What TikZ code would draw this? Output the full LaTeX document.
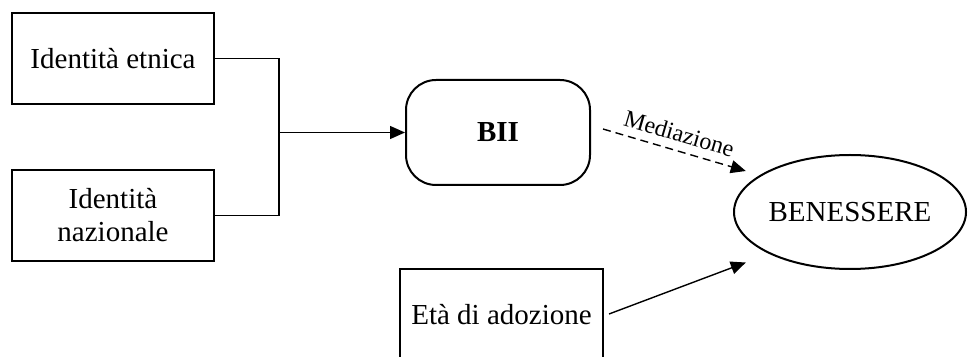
\documentclass[tikz,border=0pt]{standalone}
\usepackage{fontspec}
\setmainfont{Liberation Serif}
\usetikzlibrary{shapes.geometric,arrows.meta}
\begin{document}
\begin{tikzpicture}[x=1pt,y=1pt,
  box/.style={draw,line width=2pt,minimum width=202pt,minimum height=91pt,inner sep=0pt,align=center,font=\fontsize{29}{33}\selectfont},
  link/.style={line width=1.4pt},
  tip/.style={-{Triangle[length=15pt,width=13pt]}}]
\useasboundingbox (0,0) rectangle (968,356);
%
\node[box] (etnica) at (113,297.5) {Identità etnica};
\node[box] (nazionale) at (113,140.5) {Identità\\nazionale};
\node[box,minimum width=184pt,minimum height=105pt,rounded corners=30pt,font=\fontsize{29}{33}\selectfont\bfseries] (bii) at (498,223.5) {BII};
\node[box,ellipse,minimum width=232pt,minimum height=114pt] (benessere) at (850,144) {BENESSERE};
\node[box,minimum width=203pt] (eta) at (501.5,41.5) {Età di adozione};
%
\coordinate (giunto) at (279,223.5);
\draw[link] (etnica.east) -| (giunto) |- (nazionale.east);
\draw[link,tip] (giunto) -- (bii.west);
\draw[link,tip,dash pattern=on 8pt off 5pt] ([shift={(12,3.5)}]bii.east) -- ([shift={(-28,-3)}]benessere.150)
  node[midway,above=5pt,sloped,font=\fontsize{24}{26}\selectfont]{Mediazione};
\draw[link,tip] ([shift={(5,0.5)}]eta.east) -- ([shift={(-28,-6.5)}]benessere.210);
\end{tikzpicture}
\end{document}
